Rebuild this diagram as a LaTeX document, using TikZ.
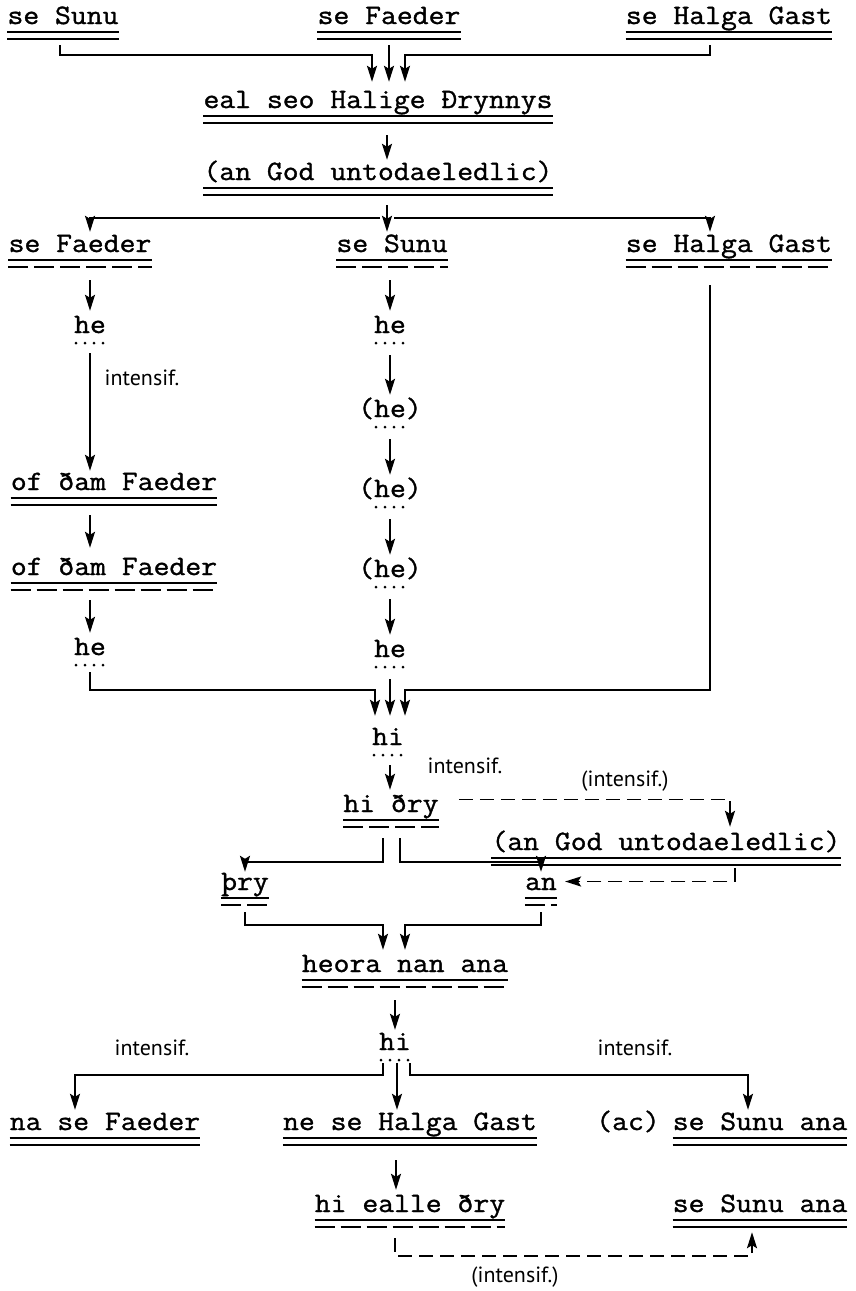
\documentclass[tikz,border=0pt]{standalone}
\usepackage{fontspec}
\setmonofont[FakeBold=1.2,FakeStretch=1.1]{Latin Modern Mono}
\newfontfamily\hand{PT Sans}
\usetikzlibrary{arrows.meta}
\tikzset{
 t/.style={font=\ttfamily\fontsize{28}{30}\selectfont, inner sep=0pt, text height=17pt, text depth=0pt, anchor=base},
 lab/.style={font=\hand\fontsize{22}{24}\selectfont, inner sep=0pt},
 arr/.style={line width=1.8pt, -{Stealth[length=16pt,width=10pt,inset=3pt]}},
 darr/.style={arr, dash pattern=on 14pt off 7pt},
 ul/.style={line width=1.6pt},
 dul/.style={line width=1.6pt, dash pattern=on 20pt off 6pt},
 dotl/.style={line width=3pt, line cap=round, dash pattern=on 0pt off 9pt},
}
\newcommand\ulDD[1]{%
 \draw[ul] ([yshift=-8pt]#1.south west) -- ([yshift=-8pt]#1.south east);
 \draw[ul] ([yshift=-15pt]#1.south west) -- ([yshift=-15pt]#1.south east);}
\newcommand\ulSD[1]{%
 \draw[ul] ([yshift=-8pt]#1.south west) -- ([yshift=-8pt]#1.south east);
 \draw[dul] ([yshift=-15pt]#1.south west) -- ([yshift=-15pt]#1.south east);}
\newcommand\ulDot[1]{%
 \draw[dotl] ([shift={(-14pt,-10pt)}]#1.south) -- ([shift={(14pt,-10pt)}]#1.south);}
\begin{document}
\begin{tikzpicture}[x=1pt,y=-1pt]
\fill[white] (0,0) rectangle (856,1291);
\useasboundingbox (0,0) rectangle (856,1291);
% nodes
\node[t] (s1) at (63,24) {se Sunu};
\node[t] (f1) at (389,24) {se Faeder};
\node[t] (g1) at (729,24) {se Halga Gast};
\node[t] (eal) at (378,108) {eal seo Halige Ðrynnys};
\node[t] (god1) at (378,180) {(an God untodaeledlic)};
\node[t] (sf) at (80,252) {se Faeder};
\node[t] (ss) at (392,252) {se Sunu};
\node[t] (sg) at (729,252) {se Halga Gast};
\node[t] (he1) at (90,333) {he};
\node[t] (hm1) at (390,333) {he};
\node[t] (hm2) at (390,417) {(he)};
\node[t] (hm3) at (390,497) {(he)};
\node[t] (of1) at (114,490) {of ðam Faeder};
\node[t] (of2) at (114,575) {of ðam Faeder};
\node[t] (hm4) at (390,577) {(he)};
\node[t] (he2) at (90,655) {he};
\node[t] (hm5) at (390,657) {he};
\node[t] (hi1) at (388,745) {hi};
\node[t] (hidry) at (391,812) {hi ðry};
\node[t] (god2) at (666,850) {(an God untodaeledlic)};
\node[t] (thry) at (245,890) {þry};
\node[t] (an) at (541,890) {an};
\node[t] (heora) at (405,972) {heora nan ana};
\node[t] (hi2) at (395,1050) {hi};
\node[t] (naf) at (105,1130) {na se Faeder};
\node[t] (neh) at (410,1130) {ne se Halga Gast};
\node[t] (ac) at (628,1130) {(ac)};
\node[t] (ssa1) at (760,1130) {se Sunu ana};
\node[t] (hed) at (410,1212) {hi ealle ðry};
\node[t] (ssa2) at (760,1212) {se Sunu ana};
% labels
\node[lab] (l1) at (142,378) {intensif.};
\node[lab] (l2) at (465,766) {intensif.};
\node[lab] (l3) at (625,781) {(intensif.)};
\node[lab] (l4) at (152,1048) {intensif.};
\node[lab] (l5) at (635,1048) {intensif.};
\node[lab] (l6) at (515,1277) {(intensif.)};
% underlines
\ulDD{s1}\ulDD{f1}\ulDD{g1}\ulDD{eal}\ulDD{god1}\ulDD{of1}\ulDD{god2}
\ulDD{naf}\ulDD{neh}\ulDD{ssa1}\ulDD{ssa2}
\ulSD{sf}\ulSD{ss}\ulSD{sg}\ulSD{of2}\ulSD{hidry}\ulSD{thry}\ulSD{an}\ulSD{heora}\ulSD{hed}
\ulDot{he1}\ulDot{hm1}\ulDot{hm2}\ulDot{hm3}\ulDot{hm4}\ulDot{hm5}\ulDot{he2}\ulDot{hi1}\ulDot{hi2}
% connectors
\draw[arr] ([shift={(-3,21)}]s1.south) -- ++(0,10) -| ([shift={(-6,-9)}]eal.north);
\draw[arr] ([shift={(0,21)}]f1.south) -- ([shift={(11,-9)}]eal.north);
\draw[arr] ([shift={(-19,21)}]g1.south) -- ++(0,10) -| ([shift={(27,-9)}]eal.north);
\draw[arr] ([shift={(9,27)}]eal.south) -- ([shift={(9,-3)}]god1.north);
\draw[arr] ([shift={(9,25)}]god1.south) -- ([shift={(-5,-3)}]ss.north);
\draw[arr] ([shift={(2,38)}]god1.south) -| ([shift={(10,-3)}]sf.north);
\draw[arr] ([shift={(16,38)}]god1.south) -| ([shift={(-19,-3)}]sg.north);
\draw[arr] ([shift={(10,28)}]sf.south) -- ([shift={(0,-5)}]he1.north);
\draw[arr] ([shift={(0,20)}]he1.south) -- ([shift={(-24,-2)}]of1.north);
\draw[arr] ([shift={(-24,25)}]of1.south) -- ([shift={(-24,-10)}]of2.north);
\draw[arr] ([shift={(-24,25)}]of2.south) -- ([shift={(0,-5)}]he2.north);
\draw[arr] ([shift={(-2,28)}]ss.south) -- ([shift={(0,-5)}]hm1.north);
\draw[arr] ([shift={(0,22)}]hm1.south) -- ([shift={(0,-5)}]hm2.north);
\draw[arr] ([shift={(0,22)}]hm2.south) -- ([shift={(0,-5)}]hm3.north);
\draw[arr] ([shift={(0,22)}]hm3.south) -- ([shift={(0,-5)}]hm4.north);
\draw[arr] ([shift={(0,22)}]hm4.south) -- ([shift={(0,-5)}]hm5.north);
\draw[arr] ([shift={(0,17)}]he2.south) |- ([shift={(-13,-38)}]hi1.north) -- ([shift={(-13,-12)}]hi1.north);
\draw[arr] ([shift={(0,22)}]hm5.south) -- ([shift={(2,-12)}]hi1.north);
\draw[arr] ([shift={(-19,33)}]sg.south) |- ([shift={(17,-38)}]hi1.north) -- ([shift={(17,-12)}]hi1.north);
\draw[arr] ([shift={(2,20)}]hi1.south) -- ([shift={(-1,-5)}]hidry.north);
\draw[darr] ([shift={(20,-4)}]hidry.east) -| ([shift={(64,-6)}]god2.north);
\draw[arr] ([shift={(-8,26)}]hidry.south) -- ++(0,24) -| ([shift={(0,-1)}]thry.north);
\draw[arr] ([shift={(9,26)}]hidry.south) -- ++(0,24) -| ([shift={(0,-1)}]an.north);
\draw[darr] ([shift={(69,18)}]god2.south) |- ([xshift=8pt]an.east);
\draw[arr] ([shift={(0,22)}]thry.south) -- ++(0,13) -| ([shift={(-22,-5)}]heora.north);
\draw[arr] ([shift={(0,22)}]an.south) -- ++(0,13) -| ([shift={(0,-5)}]heora.north);
\draw[arr] ([shift={(-10,28)}]heora.south) -- ([shift={(0,-3)}]hi2.north);
\draw[arr] ([shift={(-12,13)}]hi2.south) -- ++(0,12) -| ([shift={(-30,-3)}]naf.north);
\draw[arr] ([shift={(2,13)}]hi2.south) -- ([shift={(-13,-3)}]neh.north);
\draw[arr] ([shift={(15,13)}]hi2.south) -- ++(0,12) -| ([shift={(-12,-3)}]ssa1.north);
\draw[arr] ([shift={(-14,30)}]neh.south) -- ([shift={(-14,-5)}]hed.north);
\draw[darr] ([shift={(-15,26)}]hed.south) -- ++(0,18) -| ([shift={(-8,20)}]ssa2.south);
\end{tikzpicture}
\end{document}
